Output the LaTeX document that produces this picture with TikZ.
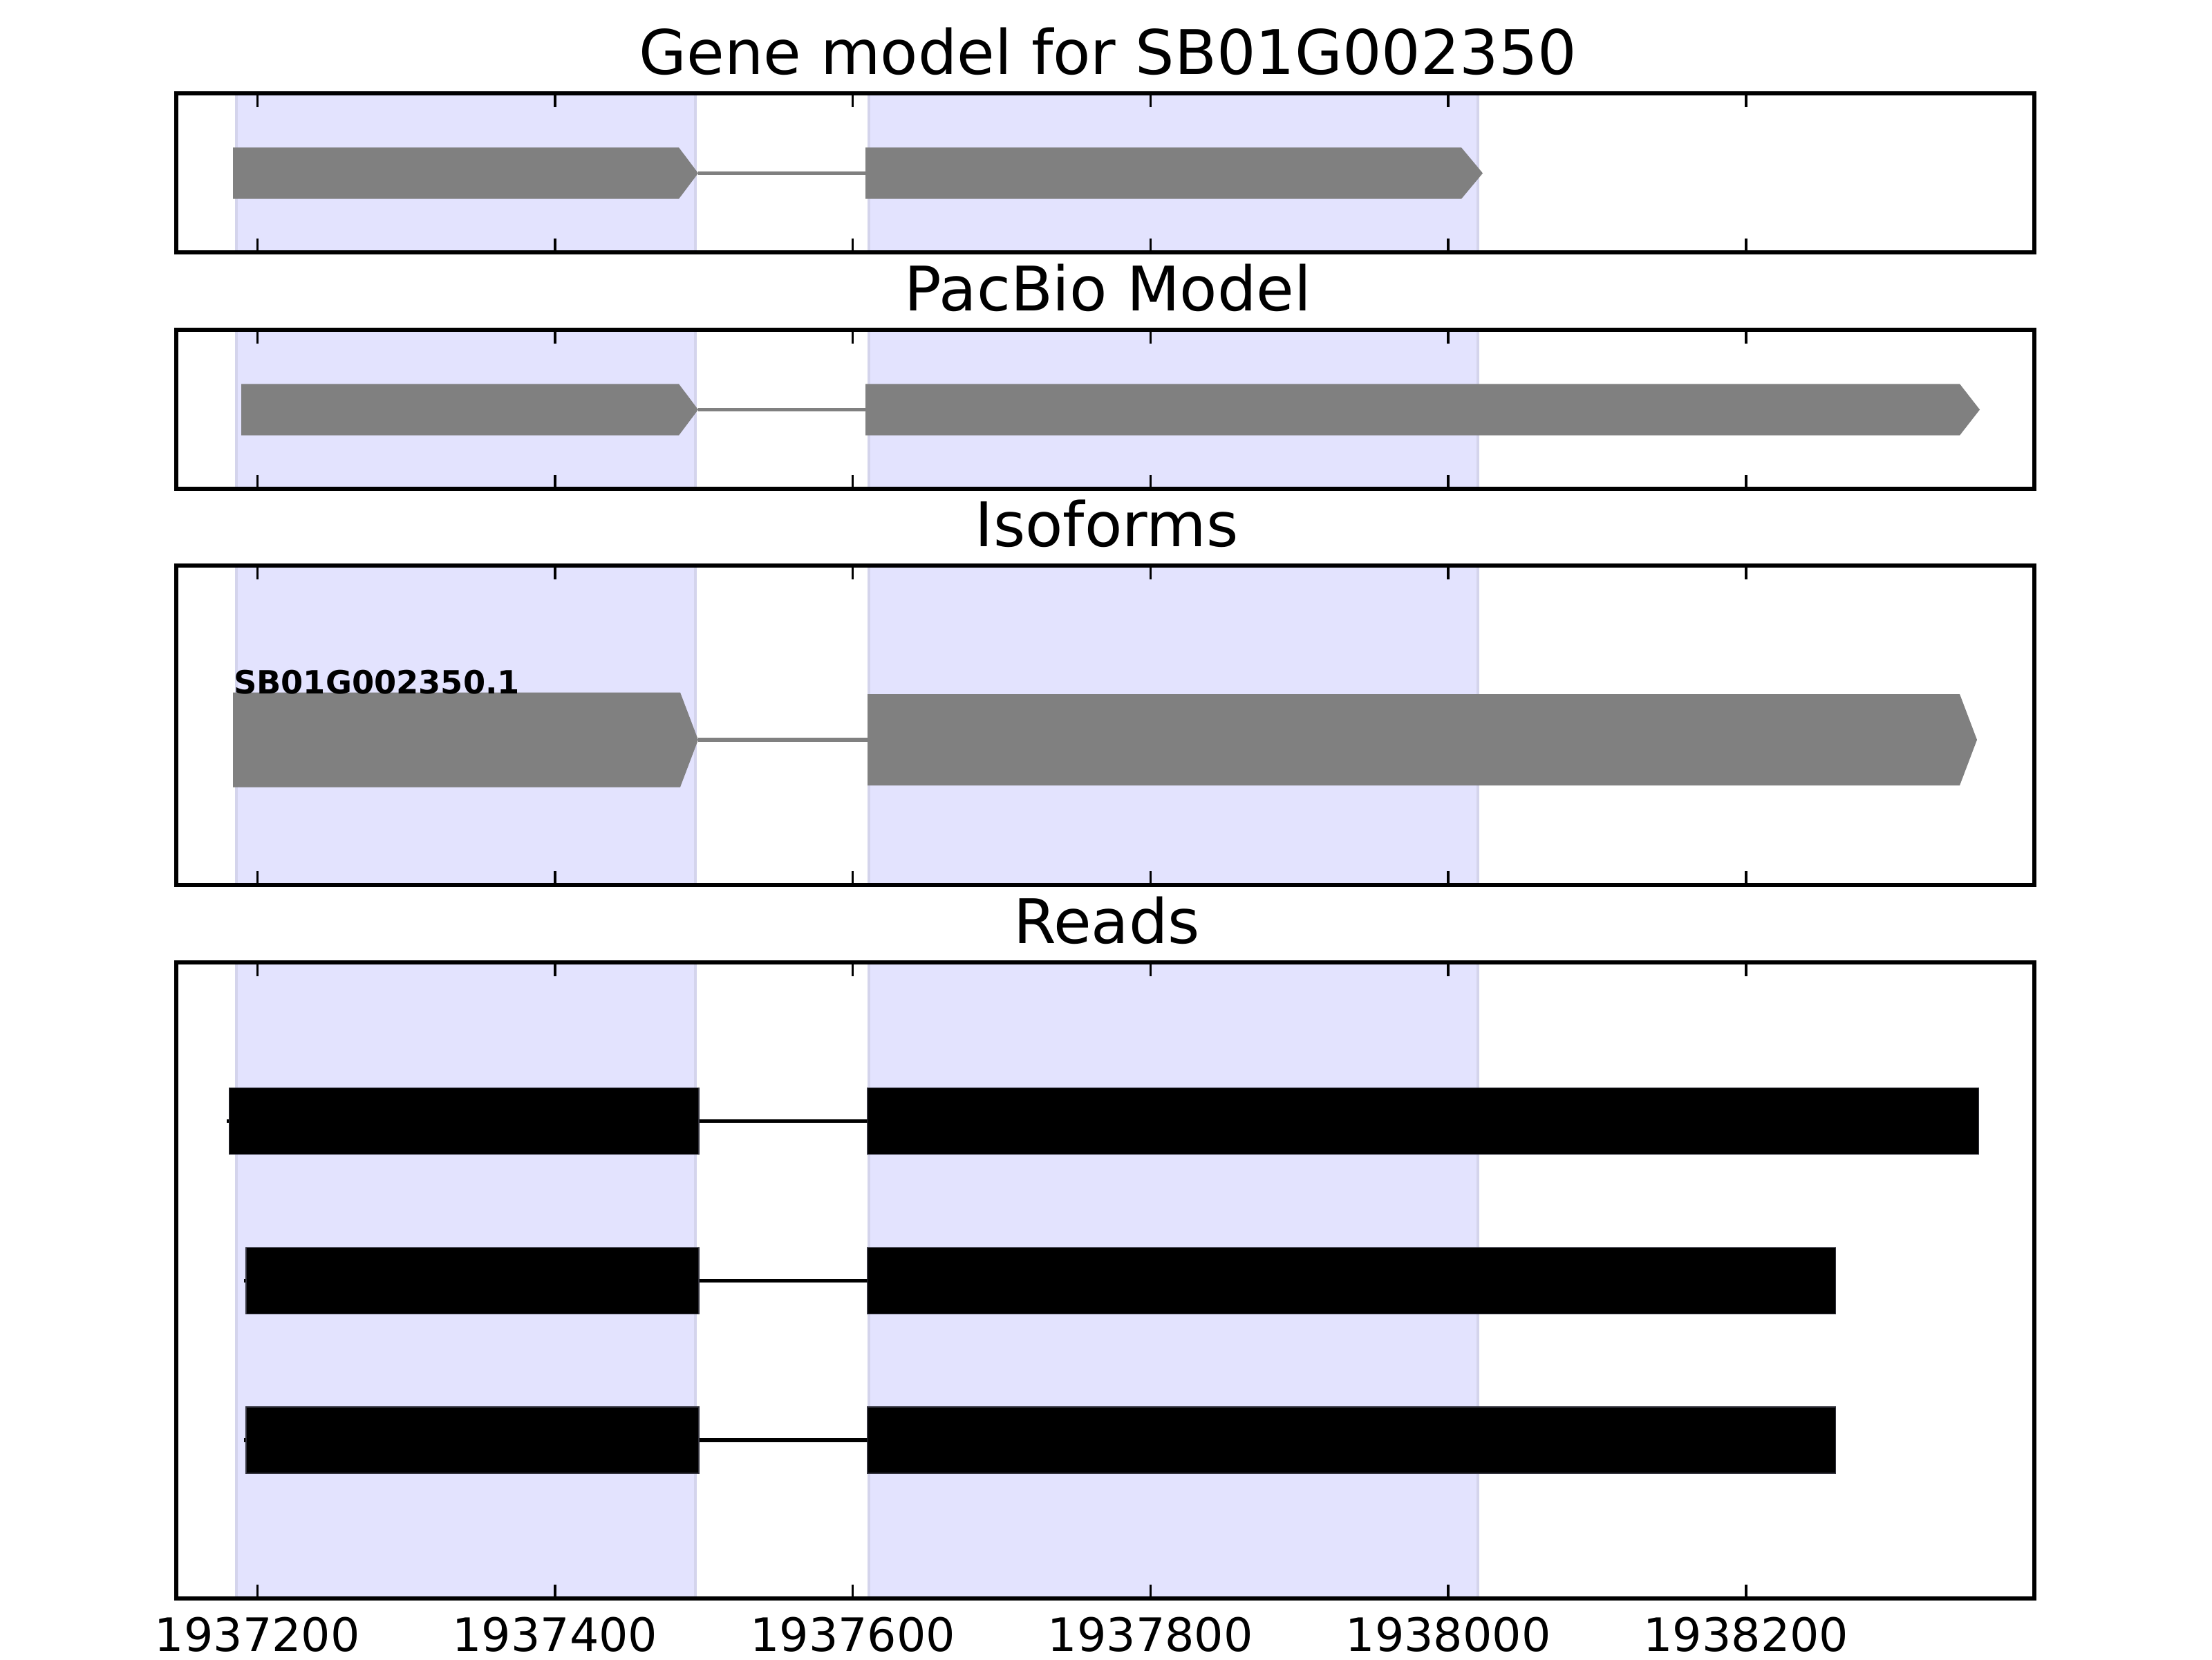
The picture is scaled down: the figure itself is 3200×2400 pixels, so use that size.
\documentclass[tikz,border=0pt]{standalone}
\usepackage{fontspec}
\setmainfont{DejaVu Sans}
\definecolor{spanblue}{RGB}{227,227,254}
\definecolor{spanedge}{RGB}{212,212,236}
\definecolor{exongray}{RGB}{128,128,128}
\definecolor{readedge}{RGB}{50,50,60}
% #1 start x, #2 body end x, #3 tip x, #4 top y, #5 bottom y, #6 name
\newcommand{\ExonArrow}[6]{%
  \fill[exongray] (#1,#4) -- (#2,#4) -- (#3,{(#4+#5)/2}) -- (#2,#5) -- (#1,#5) -- cycle;
  \coordinate (#6-s) at (#1,{(#4+#5)/2});
  \coordinate (#6-t) at (#3,{(#4+#5)/2});}
% #1 start x, #2 end x, #3 top y, #4 bottom y, #5 name
\newcommand{\ReadBlock}[5]{%
  \path[readbox] (#1,#3) rectangle (#2,#4);
  \coordinate (#5-s) at (#1,{(#3+#4)/2});
  \coordinate (#5-e) at (#2,{(#3+#4)/2});}
\begin{document}
\begin{tikzpicture}[x=0.18pt,y=-0.18pt,
  frame/.style={draw=black,line width=1pt},
  tickmark/.style={draw=black,line width=0.6pt},
  span/.style={fill=spanblue,draw=spanedge,line width=0.6pt},
  intron/.style={draw=exongray,line width=1pt},
  readbox/.style={fill=black,draw=readedge,line width=0.3pt},
  readline/.style={draw=black,line width=1pt},
  titletext/.style={font=\fontsize{16}{19}\selectfont,anchor=base,inner sep=0pt},
  ticklabel/.style={font=\fontsize{12}{14}\selectfont,anchor=base,inner sep=0pt},
  isolabel/.style={font=\fontsize{8.33}{10}\selectfont\bfseries,anchor=base west,inner sep=0pt}]
\useasboundingbox (0,0) rectangle (3200,2400);

% exon spans
\foreach \t/\b in {135/365,477/707,818/1280,1392/2312}{
  \path[span] (342,\t) rectangle (1006,\b);
  \path[span] (1257,\t) rectangle (2138,\b);
}

% panel 1: gene model
\ExonArrow{337}{982}{1010}{213.3}{287.7}{ga}
\ExonArrow{1252}{2114}{2145}{213.3}{287.7}{gb}
\draw[intron] (ga-t) -- (gb-s);

% panel 2: PacBio model
\ExonArrow{349}{982}{1010}{555.3}{629.7}{pa}
\ExonArrow{1252}{2835}{2864}{555.3}{629.7}{pb}
\draw[intron] (pa-t) -- (pb-s);

% panel 3: isoforms
\ExonArrow{337}{984}{1010}{1001.5}{1138.5}{ia}
\ExonArrow{1255}{2835}{2860}{1004}{1136}{ib}
\draw[intron] (ia-t) -- (ib-s);
\node[isolabel] (isoname) at (337,1003) {SB01G002350.1};

% panel 4: reads
\coordinate (r1l) at (328,1621.5);
\coordinate (r2l) at (353,1852.5);
\coordinate (r3l) at (353,2083);
\ReadBlock{1255}{2862.5}{1573.5}{1669.5}{r1b}
\ReadBlock{1255}{2655.5}{1804.5}{1900.5}{r2b}
\ReadBlock{1255}{2655.5}{2035}{2131}{r3b}
\draw[readline] (r1l) -- (r1b-s);
\draw[readline] (r2l) -- (r2b-s);
\draw[readline] (r3l) -- (r3b-s);
\ReadBlock{331.5}{1011}{1573.5}{1669.5}{r1a}
\ReadBlock{356}{1011}{1804.5}{1900.5}{r2a}
\ReadBlock{356}{1011}{2035}{2131}{r3a}

% ticks and frames
\foreach \t/\b in {135/365,477/707,818/1280,1392/2312}{
  \foreach \x in {372.3,803,1233.7,1664.4,2095.1,2525.8}{
    \draw[tickmark] (\x,\t) -- (\x,\t+20);
    \draw[tickmark] (\x,\b) -- (\x,\b-20);
  }
  \draw[frame] (255,\t) rectangle (2943,\b);
}

% titles
\node[titletext] (t1) at (1603,107) {Gene model for SB01G002350};
\node[titletext] (t2) at (1603,449) {PacBio Model};
\node[titletext] (t3) at (1601,790) {Isoforms};
\node[titletext] (t4) at (1601,1364) {Reads};

% tick labels
\node[ticklabel] (l1) at (372.3,2388) {1937200};
\node[ticklabel] (l2) at (803,2388) {1937400};
\node[ticklabel] (l3) at (1233.7,2388) {1937600};
\node[ticklabel] (l4) at (1664.4,2388) {1937800};
\node[ticklabel] (l5) at (2095.1,2388) {1938000};
\node[ticklabel] (l6) at (2525.8,2388) {1938200};
\end{tikzpicture}
\end{document}
